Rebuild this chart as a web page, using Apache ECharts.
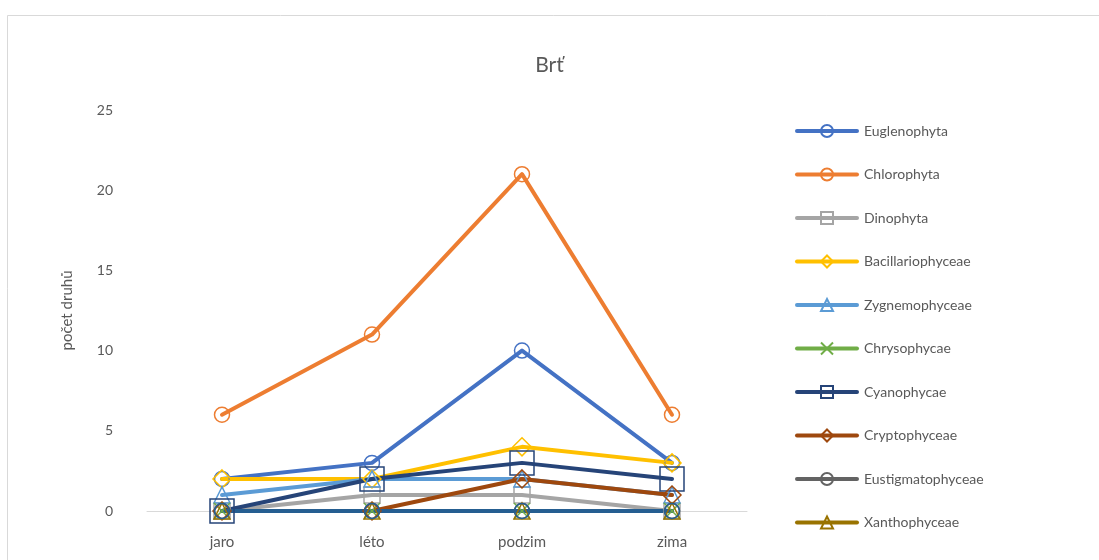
<!DOCTYPE html>
<html>
<head>
<meta charset="utf-8">
<style>
  html, body { margin: 0; padding: 0; background: #ffffff; }
  #chart { width: 1099px; height: 560px; }
</style>
<script src="https://cdn.jsdelivr.net/npm/echarts@6/dist/echarts.min.js"></script>
</head>
<body>
<div id="chart"></div>
<script>
// Seasons on the category axis
const seasons = ['jaro', 'léto', 'podzim', 'zima'];

// Number of species per algal group and season
const euglenophyta      = [2, 3, 10, 3];
const chlorophyta       = [6, 11, 21, 6];
const dinophyta         = [0, 1, 1, 0];
const bacillariophyceae = [2, 2, 4, 3];
const zygnemophyceae    = [1, 2, 2, 1];
const chrysophycae      = [0, 0, 0, 0];
const cyanophycae       = [0, 2, 3, 2];
const cryptophyceae     = [0, 0, 2, 1];
const eustigmatophyceae = [0, 0, 0, 0];
const xanthophyceae     = [0, 0, 0, 0];
const dalsi             = [0, 0, 0, 0];

const yTicks = [0, 5, 10, 15, 20, 25];

const crossPath = 'path://M0,0L10,10M10,0L0,10';

function line(name, data, color, symbol, size) {
  return {
    name: name,
    type: 'line',
    data: data,
    symbol: symbol,
    symbolSize: size,
    showAllSymbol: true,
    lineStyle: { color: color, width: 4, cap: 'round', join: 'round' },
    itemStyle: { color: 'rgba(255,255,255,0)', borderColor: color, borderWidth: 1.5 },
    emphasis: { disabled: true },
    z: 2
  };
}

const series = [
  line('Euglenophyta', euglenophyta, '#4472C4', 'circle', 15),
  line('Chlorophyta', chlorophyta, '#ED7D31', 'circle', 15),
  line('Dinophyta', dinophyta, '#A5A5A5', 'rect', 16),
  line('Bacillariophyceae', bacillariophyceae, '#FFC000', 'diamond', 18),
  line('Zygnemophyceae', zygnemophyceae, '#5B9BD5', 'triangle', 16),
  line('Chrysophycae', chrysophycae, '#70AD47', crossPath, 16),
  line('Cyanophycae', cyanophycae, '#264478', 'rect', 24),
  line('Cryptophyceae', cryptophyceae, '#9E480E', 'diamond', 18),
  line('Eustigmatophyceae', eustigmatophyceae, '#636363', 'circle', 15),
  line('Xanthophyceae', xanthophyceae, '#997300', 'triangle', 16),
  line('další', dalsi, '#255E91', 'circle', 15)
];

const legendNames = series.slice(0, 10).map(s => s.name);

const chart = echarts.init(document.getElementById('chart'), null, { renderer: 'canvas' });
chart.setOption({
  animation: false,
  backgroundColor: '#ffffff',
  textStyle: { fontFamily: 'Lato, "Noto Sans", sans-serif' },
  title: {
    text: 'Brť',
    left: 'center',
    top: 50,
    textStyle: { color: '#595959', fontSize: 21, fontWeight: 'normal', fontFamily: 'Lato, "Noto Sans", sans-serif' }
  },
  graphic: [{
    type: 'rect',
    shape: { x: 7.5, y: 15.5, width: 1200, height: 700 },
    style: { fill: 'none', stroke: '#d9d9d9', lineWidth: 1 },
    silent: true,
    z: -10
  }],
  grid: { left: 147, right: 352, top: 110, bottom: 49, containLabel: false },
  legend: {
    data: legendNames,
    orient: 'vertical',
    left: 790,
    top: 119,
    itemWidth: 60,
    itemHeight: 15,
    itemGap: 29.5,
    lineStyle: { width: 4 },
    textStyle: { color: '#595959', fontSize: 14, padding: [0, 0, 0, 2] },
    selectedMode: false
  },
  xAxis: {
    type: 'category',
    data: seasons,
    boundaryGap: true,
    axisLine: { show: true, lineStyle: { color: '#d9d9d9', width: 1 } },
    axisTick: { show: false },
    axisLabel: { color: '#595959', fontSize: 15, margin: 24 },
    splitLine: { show: false },
    z: 1
  },
  yAxis: {
    type: 'value',
    min: yTicks[0],
    max: yTicks[yTicks.length - 1],
    interval: yTicks[1] - yTicks[0],
    name: 'počet druhů',
    nameLocation: 'middle',
    nameGap: 72,
    nameRotate: 90,
    nameTextStyle: { color: '#595959', fontSize: 15 },
    axisLine: { show: false },
    axisTick: { show: false },
    axisLabel: { color: '#595959', fontSize: 14, margin: 34 },
    splitLine: { show: false }
  },
  series: series
});
</script>
</body>
</html>
